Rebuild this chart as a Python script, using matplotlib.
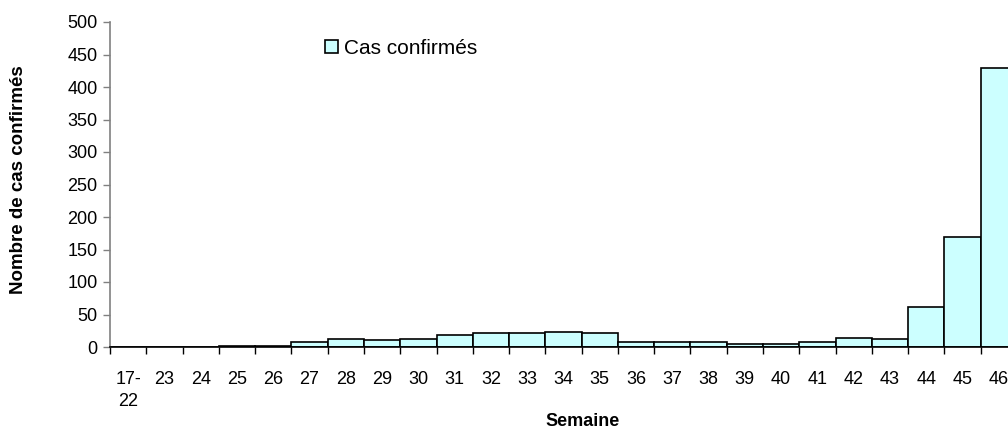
import matplotlib.pyplot as plt
import numpy as np

plt.rcParams['font.family'] = ['Liberation Sans', 'DejaVu Sans']

# Données : cas confirmés par semaine
semaines = ['17-\n22', '23', '24', '25', '26', '27', '28', '29', '30', '31', '32', '33',
            '34', '35', '36', '37', '38', '39', '40', '41', '42', '43', '44', '45', '46']
cas = [0, 0, 0, 2, 2, 8, 13, 11, 13, 19, 21, 21,
       23, 21, 7, 7, 7, 5, 5, 7, 14, 12, 62, 169, 430]

x = np.arange(len(semaines))

fig = plt.figure(figsize=(10.08, 4.32), dpi=100)
# l'axe dépasse à droite, comme dans l'original (dernière barre coupée)
ax = fig.add_axes([110/1008, 85/432, 907/1008, 325/432])

ax.bar(x, cas, width=1.0, align='edge', color='#CCFFFF', edgecolor='black',
       linewidth=1.2, label='Cas confirmés')

ax.set_xlim(0, len(semaines))
ax.set_ylim(0, 500)
ax.set_yticks(np.arange(0, 501, 50))

# graduations aux limites des catégories, étiquettes au centre
ax.set_xticks(np.arange(0, len(semaines) + 1))
ax.set_xticklabels([])
ax.set_xticks(x + 0.5, minor=True)
ax.set_xticklabels(semaines, minor=True, fontsize=13, linespacing=1.4, va='top')
ax.tick_params(axis='x', which='minor', length=0, pad=17)
ax.tick_params(axis='x', which='major', length=5, width=1, direction='out', color='black')
ax.tick_params(axis='y', length=5, width=1, color='#808080', labelsize=13, pad=4)

for s in ['top', 'right']:
    ax.spines[s].set_visible(False)
ax.spines['left'].set_color('#808080')
ax.spines['left'].set_linewidth(1.2)
ax.spines['bottom'].set_color('black')
ax.spines['bottom'].set_linewidth(1.2)

ax.set_xlabel('Semaine', fontsize=13, fontweight='bold', va='center')
ax.xaxis.set_label_coords(473/907, -75/325)
fig.text(19/1008, 1 - 180/432, 'Nombre de cas confirmés', rotation=90, fontsize=13.5,
         fontweight='bold', ha='center', va='center')

ax.legend(loc='center left', bbox_to_anchor=(215/907, 1 - 26/325), frameon=False,
          fontsize=15, handlelength=0.6, handleheight=0.6, handletextpad=0.3,
          borderpad=0, borderaxespad=0)

fig.savefig('out.png', dpi=100)
